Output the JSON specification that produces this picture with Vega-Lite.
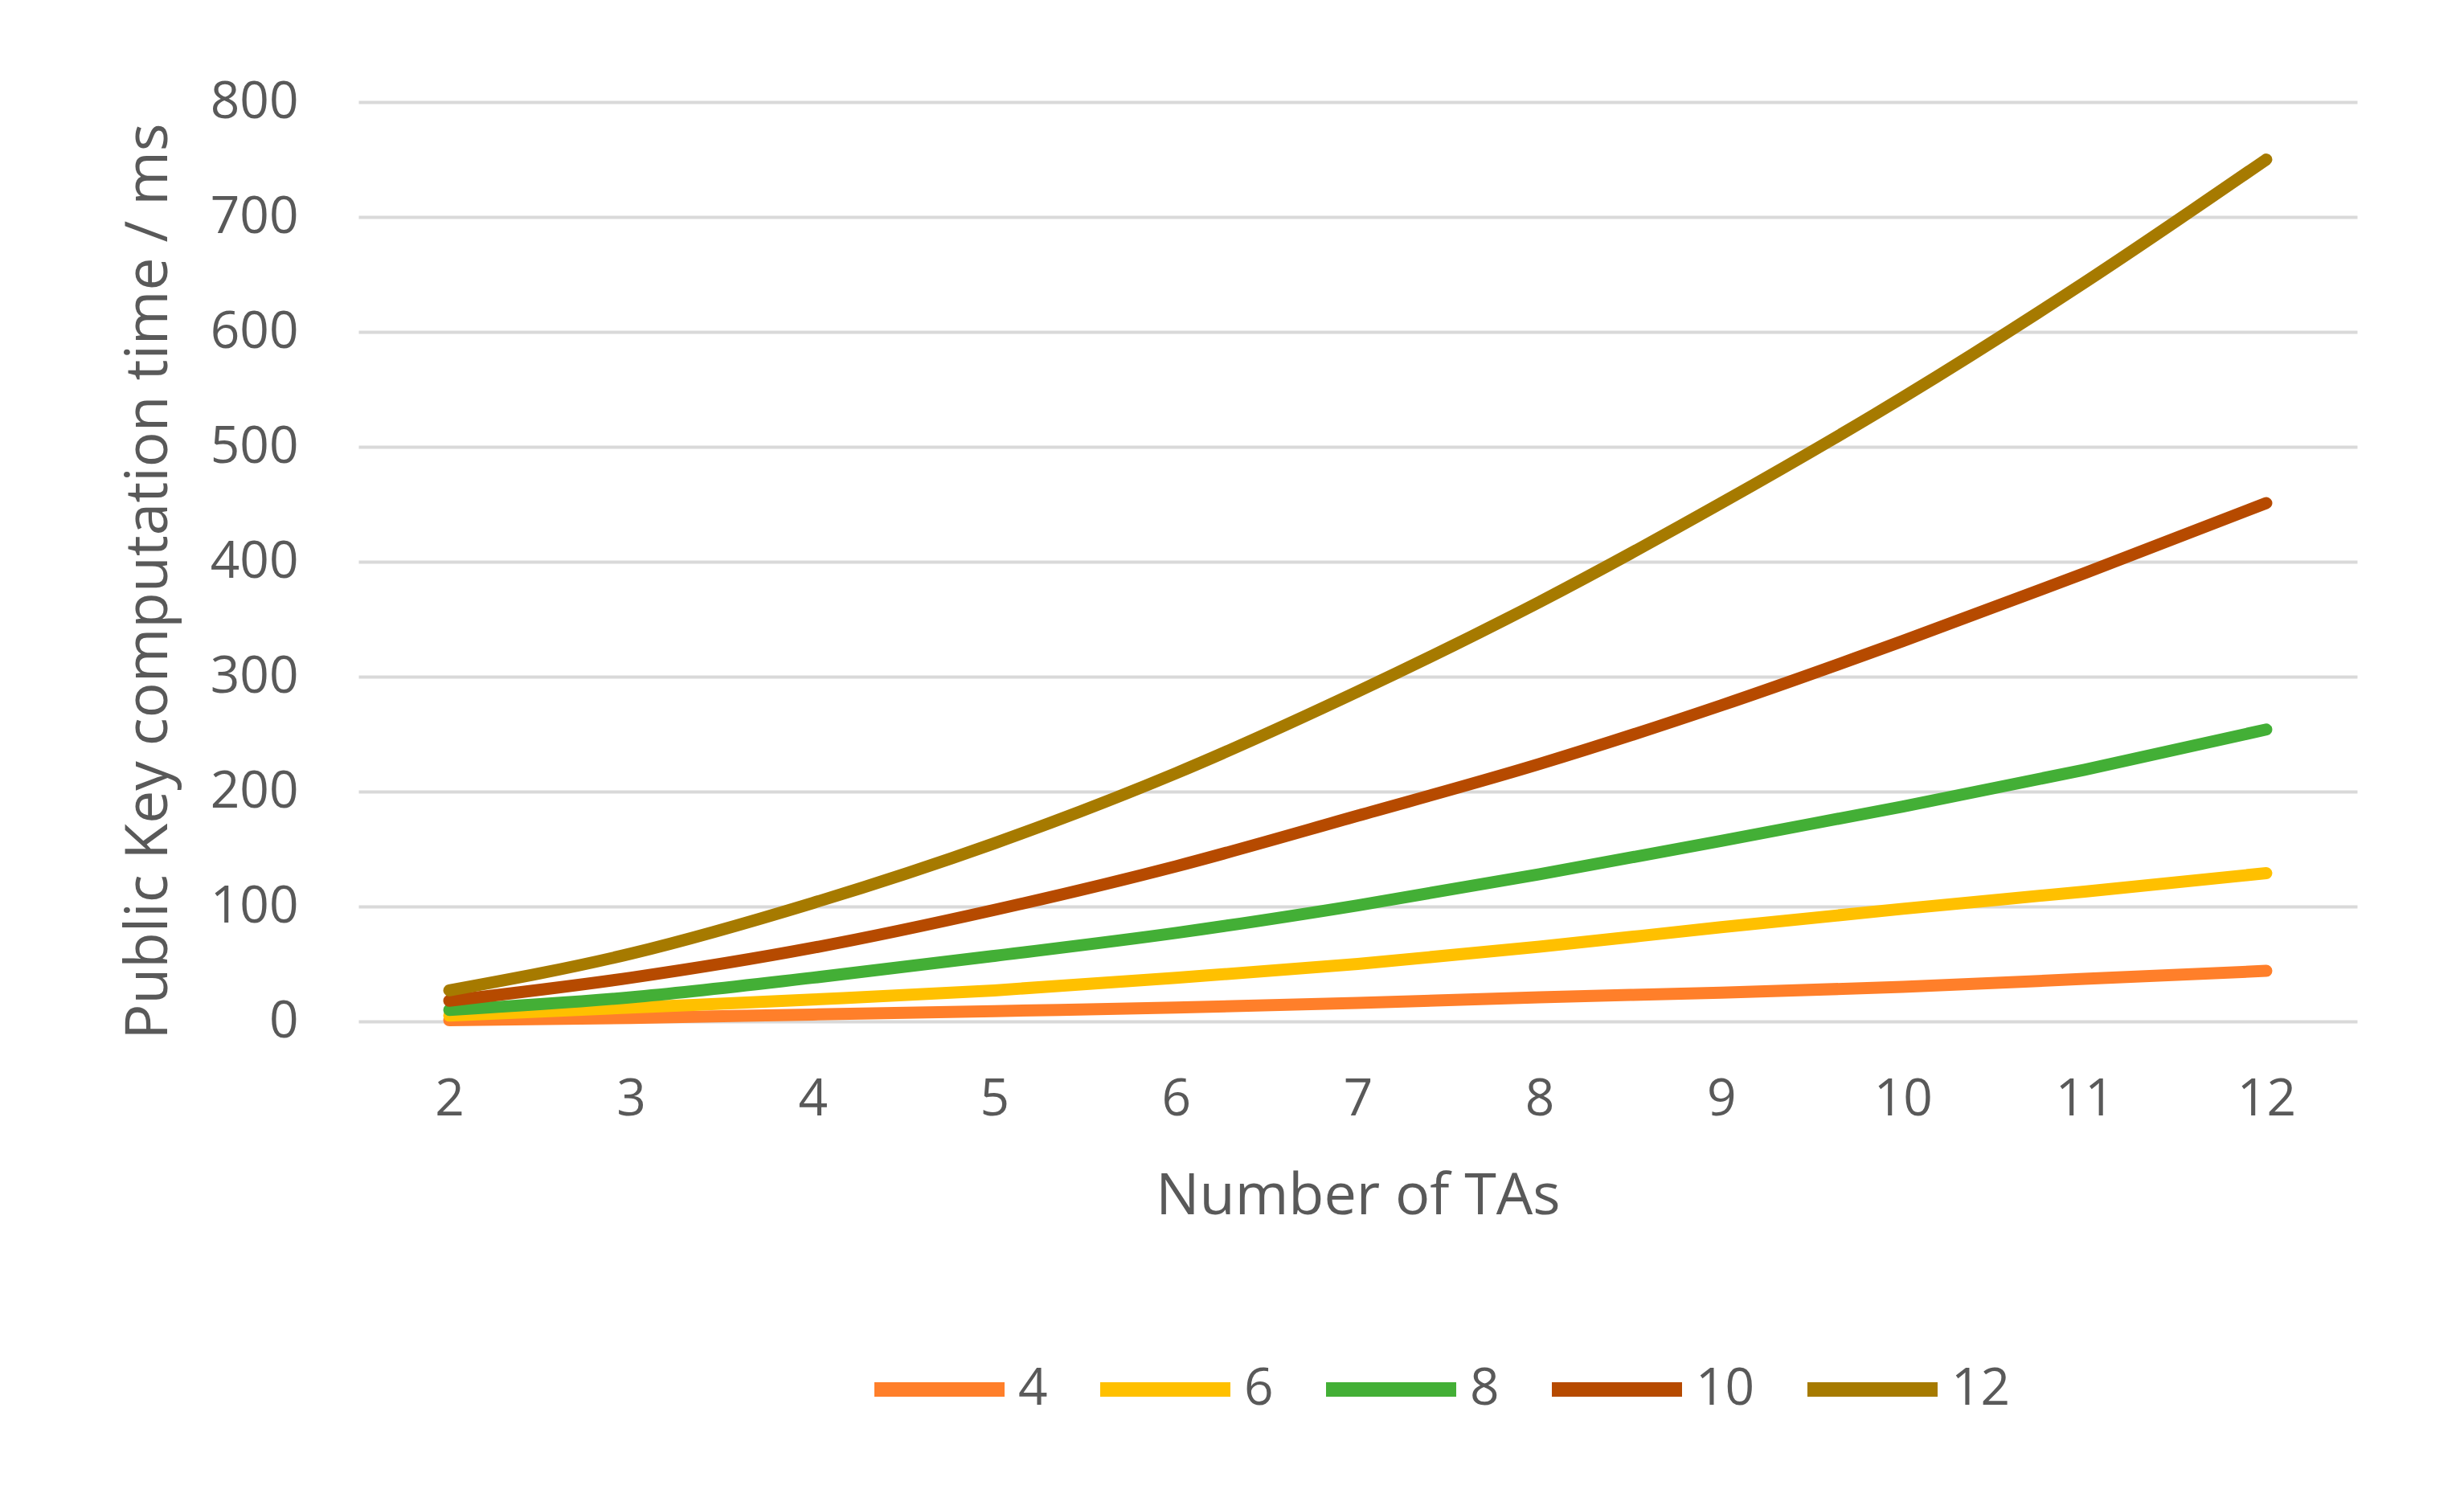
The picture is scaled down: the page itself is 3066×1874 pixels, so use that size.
{
  "$schema": "https://vega.github.io/schema/vega-lite/v6.json",
  "autosize": {"type": "none"},
  "width": 2487,
  "height": 1144,
  "padding": {"left": 446, "top": 127, "right": 133, "bottom": 603},
  "background": "white",
  "config": {
    "view": {"stroke": null},
    "font": "Open Sans",
    "axis": {"labelColor": "#595959", "titleColor": "#595959", "labelFont": "Open Sans", "titleFont": "Open Sans"},
    "legend": {"labelColor": "#595959", "labelFont": "Open Sans"}
  },
  "data": {
    "values": [
      {"n": 2, "series": 4, "t": 1}, {"n": 3, "series": 4, "t": 3}, {"n": 4, "series": 4, "t": 6}, {"n": 5, "series": 4, "t": 9}, {"n": 6, "series": 4, "t": 12}, {"n": 7, "series": 4, "t": 16}, {"n": 8, "series": 4, "t": 21}, {"n": 9, "series": 4, "t": 25}, {"n": 10, "series": 4, "t": 30}, {"n": 11, "series": 4, "t": 37}, {"n": 12, "series": 4, "t": 44},
      {"n": 2, "series": 6, "t": 5}, {"n": 3, "series": 6, "t": 12}, {"n": 4, "series": 6, "t": 19}, {"n": 5, "series": 6, "t": 27}, {"n": 6, "series": 6, "t": 38}, {"n": 7, "series": 6, "t": 50}, {"n": 8, "series": 6, "t": 65}, {"n": 9, "series": 6, "t": 82}, {"n": 10, "series": 6, "t": 98}, {"n": 11, "series": 6, "t": 113}, {"n": 12, "series": 6, "t": 129},
      {"n": 2, "series": 8, "t": 10}, {"n": 3, "series": 8, "t": 21}, {"n": 4, "series": 8, "t": 38}, {"n": 5, "series": 8, "t": 57}, {"n": 6, "series": 8, "t": 77}, {"n": 7, "series": 8, "t": 101}, {"n": 8, "series": 8, "t": 128}, {"n": 9, "series": 8, "t": 157}, {"n": 10, "series": 8, "t": 187}, {"n": 11, "series": 8, "t": 219}, {"n": 12, "series": 8, "t": 254},
      {"n": 2, "series": 10, "t": 18}, {"n": 3, "series": 10, "t": 38}, {"n": 4, "series": 10, "t": 64}, {"n": 5, "series": 10, "t": 97}, {"n": 6, "series": 10, "t": 135}, {"n": 7, "series": 10, "t": 179}, {"n": 8, "series": 10, "t": 224}, {"n": 9, "series": 10, "t": 275}, {"n": 10, "series": 10, "t": 331}, {"n": 11, "series": 10, "t": 390}, {"n": 12, "series": 10, "t": 451},
      {"n": 2, "series": 12, "t": 27}, {"n": 3, "series": 12, "t": 59}, {"n": 4, "series": 12, "t": 103}, {"n": 5, "series": 12, "t": 155}, {"n": 6, "series": 12, "t": 216}, {"n": 7, "series": 12, "t": 287}, {"n": 8, "series": 12, "t": 365}, {"n": 9, "series": 12, "t": 451}, {"n": 10, "series": 12, "t": 543}, {"n": 11, "series": 12, "t": 643}, {"n": 12, "series": 12, "t": 750}
    ]
  },
  "mark": {"type": "line", "interpolate": "monotone", "strokeWidth": 15, "strokeCap": "round", "strokeJoin": "round"},
  "encoding": {
    "x": {
      "field": "n", "type": "ordinal",
      "scale": {"type": "point", "padding": 0.5},
      "axis": {
        "title": "Number of TAs", "labelAngle": 0, "labelFontSize": 64, "titleFontSize": 72, "titleFontWeight": "normal",
        "labelPadding": 65, "ticks": false, "domain": false, "grid": false,
        "minExtent": 129, "maxExtent": 129, "titlePadding": 53
      }
    },
    "y": {
      "field": "t", "type": "quantitative",
      "scale": {"domain": [0, 800], "nice": false},
      "axis": {
        "title": "Public Key computation time / ms", "values": [0, 100, 200, 300, 400, 500, 600, 700, 800],
        "labelFontSize": 64, "titleFontSize": 73, "titleFontWeight": "normal",
        "labelPadding": 75, "ticks": false, "domain": false,
        "grid": true, "gridColor": "#D9D9D9", "gridWidth": 4,
        "minExtent": 182, "maxExtent": 182, "titlePadding": 42, "titleY": 596, "titleAlign": "center"
      }
    },
    "color": {
      "field": "series", "type": "nominal", "sort": [4, 6, 8, 10, 12],
      "scale": {"domain": [4, 6, 8, 10, 12], "range": ["#FF7F2A", "#FFC000", "#43AF36", "#B64A00", "#A67A00"]},
      "legend": {
        "title": null, "orient": "none", "direction": "horizontal", "legendX": 633, "legendY": 1512,
        "symbolType": "stroke", "symbolSize": 26244, "symbolStrokeWidth": 18,
        "labelFontSize": 64, "labelOffset": 8, "columnPadding": 29
      }
    }
  }
}
